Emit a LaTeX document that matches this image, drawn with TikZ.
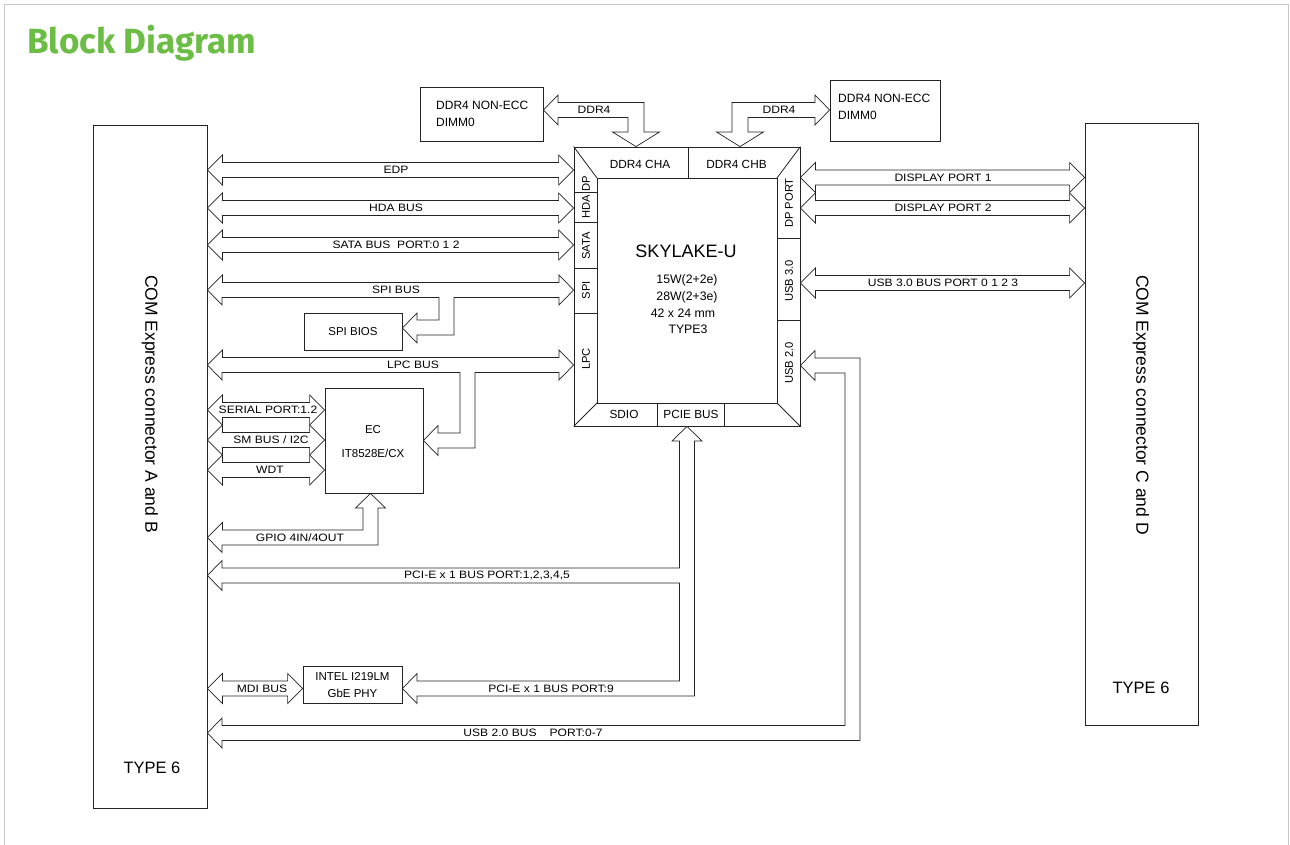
\documentclass[tikz,border=0pt]{standalone}
\usepackage{fontspec}
\setmainfont{Liberation Sans}
\newfontfamily\lblfont{Liberation Sans}[FakeStretch=1.13]
\newfontfamily\titlefont{Fira Sans}
\usetikzlibrary{calc}
\definecolor{titlegreen}{RGB}{108,189,69}
\definecolor{framegray}{RGB}{200,200,200}
\definecolor{lineblk}{RGB}{35,35,35}

% hollow double-headed bus between two tips on one row
\newcommand\hbus[2]{%
  \draw[bus] let \p1=(#1), \p2=(#2) in
    (\x1,\y1) -- (\x1+15pt,\y1+15pt) -- (\x1+15pt,\y1+7.5pt) -- (\x2-15pt,\y1+7.5pt)
    -- (\x2-15pt,\y1+15pt) -- (\x2,\y1) -- (\x2-15pt,\y1-15pt) -- (\x2-15pt,\y1-7.5pt)
    -- (\x1+15pt,\y1-7.5pt) -- (\x1+15pt,\y1-15pt) -- cycle;}

\begin{document}
\begin{tikzpicture}[x=1pt, y=-1pt,
    every node/.style={font=\lblfont\fontsize{10.7}{12}\selectfont, inner sep=0pt},
    box/.style={draw=lineblk, line width=0.8pt, fill=white},
    bus/.style={draw=lineblk, line width=0.7pt, fill=white},
    cputxt/.style={font=\fontsize{11.8}{14}\selectfont},
    bandtxt/.style={font=\fontsize{11.2}{13}\selectfont, rotate=90},
    bigtxt/.style={font=\fontsize{17.5}{20}\selectfont}]
  \useasboundingbox (0,0) rectangle (1290,845);
  \draw[framegray, line width=1.5pt] (4.5,845) -- (4.5,4.5) -- (1288.5,4.5) -- (1288.5,845);
  \node[anchor=base west, font=\titlefont\bfseries\fontsize{35}{40}\selectfont, text=titlegreen] (title) at (27,54) {Block Diagram};

  % connectors
  \node[box, minimum width=114, minimum height=683] (connAB) at (150,466.5) {};
  \node[bigtxt, rotate=-90] (connABtxt) at (150,404) {COM Express connector A and B};
  \node[font=\fontsize{16.5}{18}\selectfont] (typeAB) at (152,768) {TYPE 6};
  \node[box, minimum width=113, minimum height=602] (connCD) at (1141.5,424) {};
  \node[bigtxt, rotate=-90] (connCDtxt) at (1141,405) {COM Express connector C and D};
  \node[font=\fontsize{16.5}{18}\selectfont] (typeCD) at (1141,688) {TYPE 6};

  % cpu
  \node[box, minimum width=226, minimum height=279] (cpu) at (687,286.5) {};
  \draw[lineblk, line width=0.8pt] (597,178) rectangle (777,403);
  \draw[lineblk, line width=0.8pt] (cpu.north west) -- (597,178) (cpu.north east) -- (777,178)
    (cpu.south west) -- (597,403) (cpu.south east) -- (777,403);
  \draw[lineblk, line width=0.8pt] (688,147) -- (688,178)
    (574,192) -- (597,192) (574,222) -- (597,222) (574,268) -- (597,268) (574,313) -- (597,313)
    (777,238) -- (800,238) (777,320) -- (800,320)
    (657,403) -- (657,426) (724,403) -- (724,426);
  \node[cputxt] (cha) at (640,164) {DDR4 CHA};
  \node[cputxt] (chb) at (736.5,164) {DDR4 CHB};
  \node[bandtxt] (bdp) at (586,184) {DP};
  \node[bandtxt] (bhda) at (586,207) {HDA};
  \node[bandtxt] (bsata) at (586,246) {SATA};
  \node[bandtxt] (bspi) at (586,290) {SPI};
  \node[bandtxt] (blpc) at (586,359) {LPC};
  \node[bandtxt] (bdpp) at (789,203) {DP PORT};
  \node[bandtxt] (busb3) at (789,281) {USB 3.0};
  \node[bandtxt] (busb2) at (789,363) {USB 2.0};
  \node[cputxt] (bsdio) at (624,414) {SDIO};
  \node[cputxt] (bpcie) at (691,414) {PCIE BUS};
  \node[font=\fontsize{18}{20}\selectfont] (sky) at (686,251) {SKYLAKE-U};
  \node[font=\fontsize{12.3}{14}\selectfont] (pw1) at (687,280) {15W(2+2e)};
  \node[font=\fontsize{12.3}{14}\selectfont] (pw2) at (687,297) {28W(2+3e)};
  \node[font=\fontsize{12.3}{14}\selectfont] (size) at (683,313) {42 x 24 mm};
  \node[font=\fontsize{12.3}{14}\selectfont] (pkg) at (688,329) {TYPE3};

  % memory and peripherals
  \node[box, minimum width=123, minimum height=54] (dimmA) at (481.5,114) {};
  \node[cputxt, anchor=west, align=left, font=\fontsize{12}{17}\selectfont] (dimmAtxt) at (436,113.5) {DDR4 NON-ECC\\DIMM0};
  \node[box, minimum width=110, minimum height=61] (dimmB) at (885,110.5) {};
  \node[anchor=west, align=left, font=\fontsize{12}{17}\selectfont] (dimmBtxt) at (838,106.5) {DDR4 NON-ECC\\DIMM0};
  \node[box, minimum width=98, minimum height=37] (bios) at (353,331.5) {};
  \node[font=\fontsize{11.5}{13}\selectfont] (biostxt) at (353,331.5) {SPI BIOS};
  \node[box, minimum width=98, minimum height=105] (ec) at (374,440.5) {};
  \node[font=\fontsize{11.5}{13}\selectfont] (ectxt) at (373,430) {EC};
  \node[font=\fontsize{11.5}{13}\selectfont] (ecpart) at (373,453) {IT8528E/CX};
  \node[box, minimum width=99, minimum height=37] (phy) at (352.5,684.5) {};
  \node[align=center, font=\fontsize{11.5}{17}\selectfont] (phytxt) at (352.5,685.5) {INTEL I219LM\\GbE PHY};

  % straight buses
  \hbus{connAB.east |- 0,170}{cpu.west |- 0,170}
  \hbus{connAB.east |- 0,208}{cpu.west |- 0,208}
  \hbus{connAB.east |- 0,245}{cpu.west |- 0,245}
  \hbus{connAB.east |- 0,410}{ec.west |- 0,410}
  \hbus{connAB.east |- 0,440}{ec.west |- 0,440}
  \hbus{connAB.east |- 0,470}{ec.west |- 0,470}
  \hbus{connAB.east |- 0,688.5}{phy.west |- 0,688.5}
  \hbus{cpu.east |- 0,177.5}{connCD.west |- 0,177.5}
  \hbus{cpu.east |- 0,208}{connCD.west |- 0,208}
  \hbus{cpu.east |- 0,283}{connCD.west |- 0,283}

  % bent buses
  \draw[bus] (connAB.east |- 0,290) -- ++(15,-15) -- ++(0,7.5) -- (559,282.5) -- (559,275)
    -- (cpu.west |- 0,290) -- (559,305) -- (559,297.5) -- (454,297.5) -- (454,335) -- (417,335)
    -- (417,343) -- (bios.east |- 0,328) -- (417,313) -- (417,320) -- (439,320) -- (439,297.5)
    -- (222,297.5) -- (222,305) -- cycle;
  \draw[bus] (connAB.east |- 0,365) -- ++(15,-15) -- ++(0,7.5) -- (559,357.5) -- (559,350)
    -- (cpu.west |- 0,365) -- (559,380) -- (559,372.5) -- (475,372.5) -- (475,448) -- (438,448)
    -- (438,455.5) -- (ec.east) -- (438,425.5) -- (438,433) -- (460,433) -- (460,372.5)
    -- (222,372.5) -- (222,380) -- cycle;
  \draw[bus] (connAB.east |- 0,537.5) -- ++(15,-15) -- ++(0,7.5) -- (363,530) -- (363,508)
    -- (355.5,508) -- (ec.south -| 370.5,0) -- (385.5,508) -- (378,508) -- (378,545)
    -- (222,545) -- (222,552.5) -- cycle;
  \draw[bus] (cpu.south) -- (702,441) -- (694.5,441) -- (694.5,696) -- (417,696) -- (417,703.5)
    -- (phy.east |- 0,688.5) -- (417,673.5) -- (417,681) -- (679.5,681) -- (679.5,583)
    -- (222,583) -- (222,590.5) -- (connAB.east |- 0,575.5) -- (222,560.5) -- (222,568)
    -- (679.5,568) -- (679.5,441) -- (672,441) -- cycle;
  \draw[bus] (cpu.east |- 0,365.5) -- (815,350.5) -- (815,358) -- (860,358) -- (860,740.5)
    -- (222,740.5) -- (222,748) -- (connAB.east |- 0,733) -- (222,718) -- (222,725.5)
    -- (845,725.5) -- (845,373) -- (815,373) -- (815,380.5) -- cycle;
  \draw[bus] (dimmA.east |- 0,110) -- (558,95) -- (558,102.5) -- (644,102.5) -- (644,132)
    -- (659.5,132) -- (cpu.north -| 636,0) -- (612.5,132) -- (628,132) -- (628,117.5)
    -- (558,117.5) -- (558,125) -- cycle;
  \draw[bus] (dimmB.west |- 0,110) -- (815,95) -- (815,102.5) -- (732,102.5) -- (732,132)
    -- (716.5,132) -- (cpu.north -| 740,0) -- (763.5,132) -- (748,132) -- (748,117.5)
    -- (815,117.5) -- (815,125) -- cycle;

  % bus labels
  \node (edpL) at (396,170) {EDP};
  \node (hdaL) at (396,208) {HDA BUS};
  \node (sataL) at (396,245) {SATA BUS~ PORT:0 1 2};
  \node (spiL) at (396,290) {SPI BUS};
  \node (lpcL) at (413,365) {LPC BUS};
  \node (serL) at (268,410) {SERIAL PORT:1.2};
  \node (smbL) at (271,440) {SM BUS / I2C};
  \node (wdtL) at (270,470) {WDT};
  \node (gpioL) at (300,537.5) {GPIO 4IN/4OUT};
  \node (pcie5L) at (487,575.5) {PCI-E x 1 BUS PORT:1,2,3,4,5};
  \node (mdiL) at (262,688.5) {MDI BUS};
  \node (pcie9L) at (551,688.5) {PCI-E x 1 BUS PORT:9};
  \node (usb2L) at (533,733) {USB 2.0 BUS\hspace{13pt}PORT:0-7};
  \node (dp1L) at (943,177.5) {DISPLAY PORT 1};
  \node (dp2L) at (943,208) {DISPLAY PORT 2};
  \node (usb3L) at (943,283) {USB 3.0 BUS PORT 0 1 2 3};
  \node (ddrAL) at (594,110) {DDR4};
  \node (ddrBL) at (779,110) {DDR4};
\end{tikzpicture}
\end{document}
